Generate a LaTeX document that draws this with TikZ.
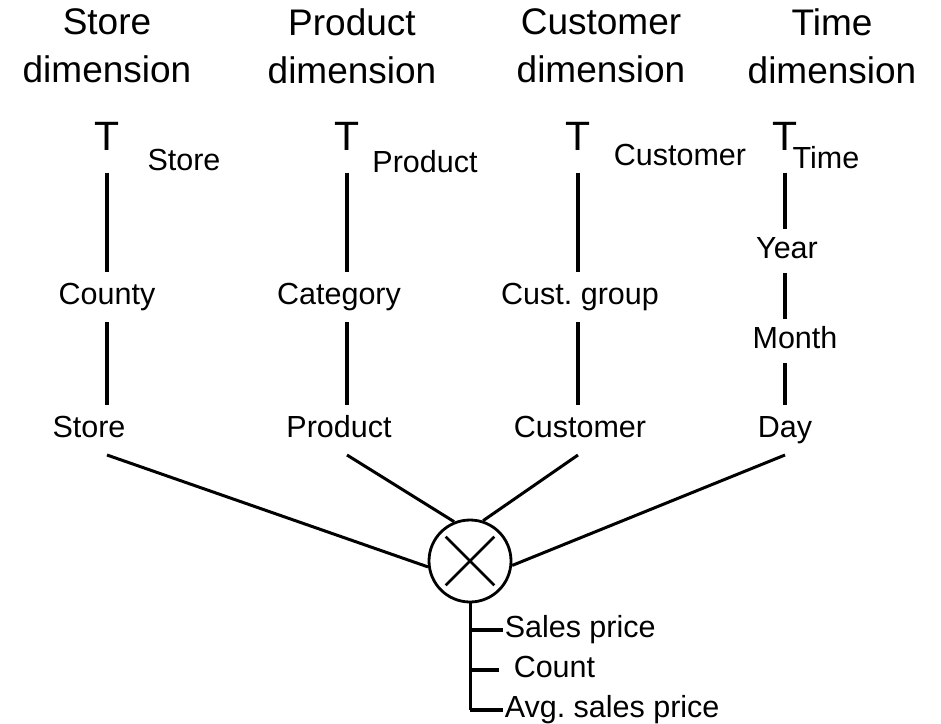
\documentclass[tikz,border=0pt]{standalone}
\usepackage{fontspec}
\setmainfont{Liberation Sans}
\usetikzlibrary{positioning}
\begin{document}
\frenchspacing
\begin{tikzpicture}[x=1pt, y=-1pt, line width=3.5pt, every node/.style={font=\fontsize{30.5}{34}\selectfont, inner sep=9pt, text height=22pt, text depth=6.5pt},
    head/.style={align=center, font=\fontsize{37}{48}\selectfont, inner sep=0pt, text height=, text depth=},
    topdim/.style={font=\fontsize{41}{44}\selectfont, inner sep=0pt, text height=29.5pt, text depth=0pt},
    measure/.style={anchor=west, inner sep=0pt},
    fact/.style={draw, circle, line width=2.8pt, minimum size=82pt, inner sep=0pt}]
    \useasboundingbox (0,0) rectangle (941,723);

    % headers
    \node[head] (h0) at (107,46) {Store\\dimension};
    \node[head] (h1) at (352,46) {Product\\dimension};
    \node[head] (h2) at (601,46) {Customer\\dimension};
    \node[head] (h3) at (832,46) {Time\\dimension};

    % top levels
    \node[topdim] (st0) at (107,136) {T};
    \node[topdim] (pr0) at (347,136) {T};
    \node[topdim] (cu0) at (578,136) {T};
    \node[topdim] (ti0) at (785,136) {T};
    \node[inner sep=0pt] (stName) at (184,163) {Store};
    \node[inner sep=0pt] (prName) at (425,165) {Product};
    \node[inner sep=0pt] (cuName) at (680,158) {Customer};
    \node[inner sep=0pt] (tiName) at (826,161) {Time};

    % levels
    \node (st1) at (107,297) {County};
    \node (st2) at (89,430) {Store};
    \node (pr1) at (339,297) {Category};
    \node (pr2) at (339,430) {Product};
    \node (cu1) at (580,297) {Cust. group};
    \node (cu2) at (580,430) {Customer};
    \node[inner sep=6pt] (ti1) at (787,251) {Year};
    \node[inner sep=6pt] (ti2) at (795,341) {Month};
    \node (ti3) at (785,430) {Day};

    % fact
    \node[fact] (f) at (470,561) {};
    \draw[line width=2.8pt, shorten <=8pt, shorten >=8pt] (f.north west) -- (f.south east);
    \draw[line width=2.8pt, shorten <=8pt, shorten >=8pt] (f.north east) -- (f.south west);

    \draw[shorten <=20pt] (st0.south) -- (st1.north -| st0.south);
    \draw (st1.south -| st0.south) -- (st2.north -| st0.south);
    \draw[shorten <=20pt] (pr0.south) -- (pr1.north -| pr0.south);
    \draw (pr1.south -| pr0.south) -- (pr2.north -| pr0.south);
    \draw[shorten <=20pt] (cu0.south) -- (cu1.north -| cu0.south);
    \draw (cu1.south -| cu0.south) -- (cu2.north -| cu0.south);
    \draw[shorten <=20pt] (ti0.south) -- (ti1.north -| ti0.south);
    \draw (ti1.south -| ti0.south) -- (ti2.north -| ti0.south);
    \draw (ti2.south -| ti0.south) -- (ti3.north -| ti0.south);

    \draw[line width=3pt] (st2.south -| st0.south) -- (f.188);
    \draw[line width=3pt] (pr2.south -| pr0.south) -- (f.112);
    \draw[line width=3pt] (cu2.south -| cu0.south) -- (f.72);
    \draw[line width=3pt] (ti3.south -| ti0.south) -- (f.354);

    % measures
    \node[measure] (m0) at (503,630) {Sales price};
    \node[measure] (m1) at (512,670) {Count};
    \node[measure] (m2) at (503,710) {Avg. sales price};
    \draw[line width=3pt] (f.south) -- (f.south |- m2.west);
    \draw[line width=4.5pt] (f.south |- m0.west) -- (m0.west);
    \draw[line width=4.5pt] (f.south |- m1.west) -- ++(29,0);
    \draw[line width=4.5pt] (f.south |- m2.west) -- (m2.west);
\end{tikzpicture}
\end{document}
